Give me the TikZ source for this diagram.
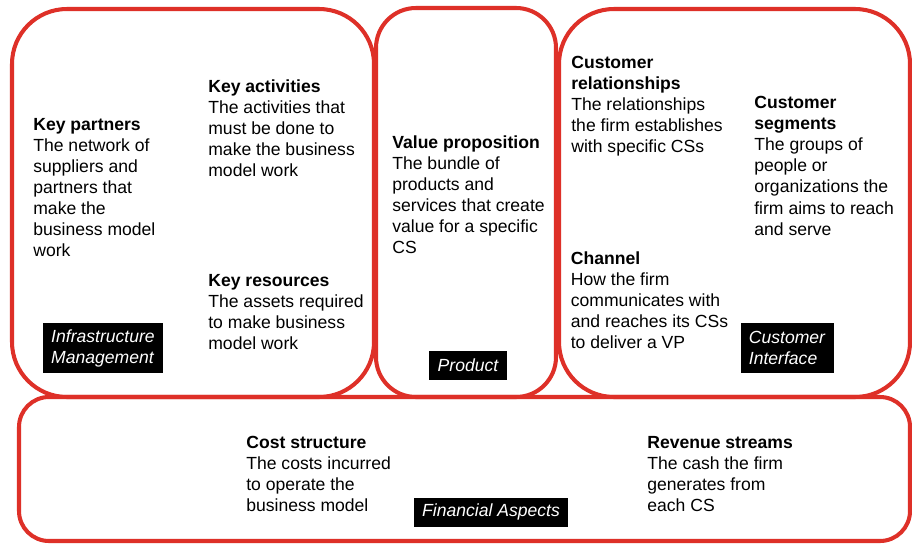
\documentclass[tikz,border=0pt]{standalone}
\usepackage{fontspec}
\setmainfont{Liberation Sans}
\usepackage{tikz}

\definecolor{vermelho}{RGB}{222,48,40}

\tikzset{
	bloco/.style={draw=vermelho, line width=2.3pt},
	texto/.style={anchor=north west, align=left, inner sep=0pt, font=\fontsize{10}{12}\selectfont},
	rotulo/.style={fill=black, text=white, align=left, inner sep=0pt, font=\fontsize{10}{12}\selectfont\itshape}
}

\begin{document}
\begin{tikzpicture}[x=0.02cm, y=-0.02cm]

	% Área da figura
	\useasboundingbox (0,0) rectangle (912,544);
	\fill[white] (0,0) rectangle (912,544);

	% Blocos
	\draw[bloco, rounded corners=1.1cm] (12,9) rectangle (374,397);
	\draw[bloco, rounded corners=0.8cm] (376,8) rectangle (556,397);
	\draw[bloco, rounded corners=1.1cm] (559,9) rectangle (910,397);
	\draw[bloco, rounded corners=0.6cm] (19,397) rectangle (910,541);

	% Infraestrutura
	\node[texto] (parceiros) at (33,118) {\textbf{Key partners}\\The network of\\suppliers and\\partners that\\make the\\business model\\work};
	\node[texto] (atividades) at (208,79) {\textbf{Key activities}\\The activities that\\must be done to\\make the business\\model work};
	\node[texto] (recursos) at (208,274) {\textbf{Key resources}\\The assets required\\to make business\\model work};
	\node[rotulo, minimum width=2.4cm, minimum height=1cm] (infra) at (103,348) {Infrastructure\\Management};

	% Produto
	\node[texto] (valor) at (392,135) {\textbf{Value proposition}\\The bundle of\\products and\\services that create\\value for a specific\\CS};
	\node[rotulo, minimum width=1.56cm, minimum height=0.58cm] (produto) at (468,365.5) {Product};

	% Interface com o cliente
	\node[texto] (relacoes) at (571,56) {\textbf{Customer}\\\textbf{relationships}\\The relationships\\the firm establishes\\with specific CSs};
	\node[texto] (segmentos) at (754,96) {\textbf{Customer}\\\textbf{segments}\\The groups of\\people or\\organizations the\\firm aims to reach\\and serve};
	\node[texto] (canal) at (570.5,251) {\textbf{Channel}\\How the firm\\communicates with\\and reaches its CSs\\to deliver a VP};
	\node[rotulo, minimum width=1.86cm, minimum height=1cm] (interface) at (787,348) {Customer\\Interface};

	% Aspectos financeiros
	\node[texto] (custos) at (246,436) {\textbf{Cost structure}\\The costs incurred\\to operate the\\business model};
	\node[texto] (receitas) at (647,436) {\textbf{Revenue streams}\\The cash the firm\\generates from\\each CS};
	\node[rotulo, minimum width=3.1cm, minimum height=0.58cm] (financas) at (491,512) {Financial Aspects};

\end{tikzpicture}
\end{document}
